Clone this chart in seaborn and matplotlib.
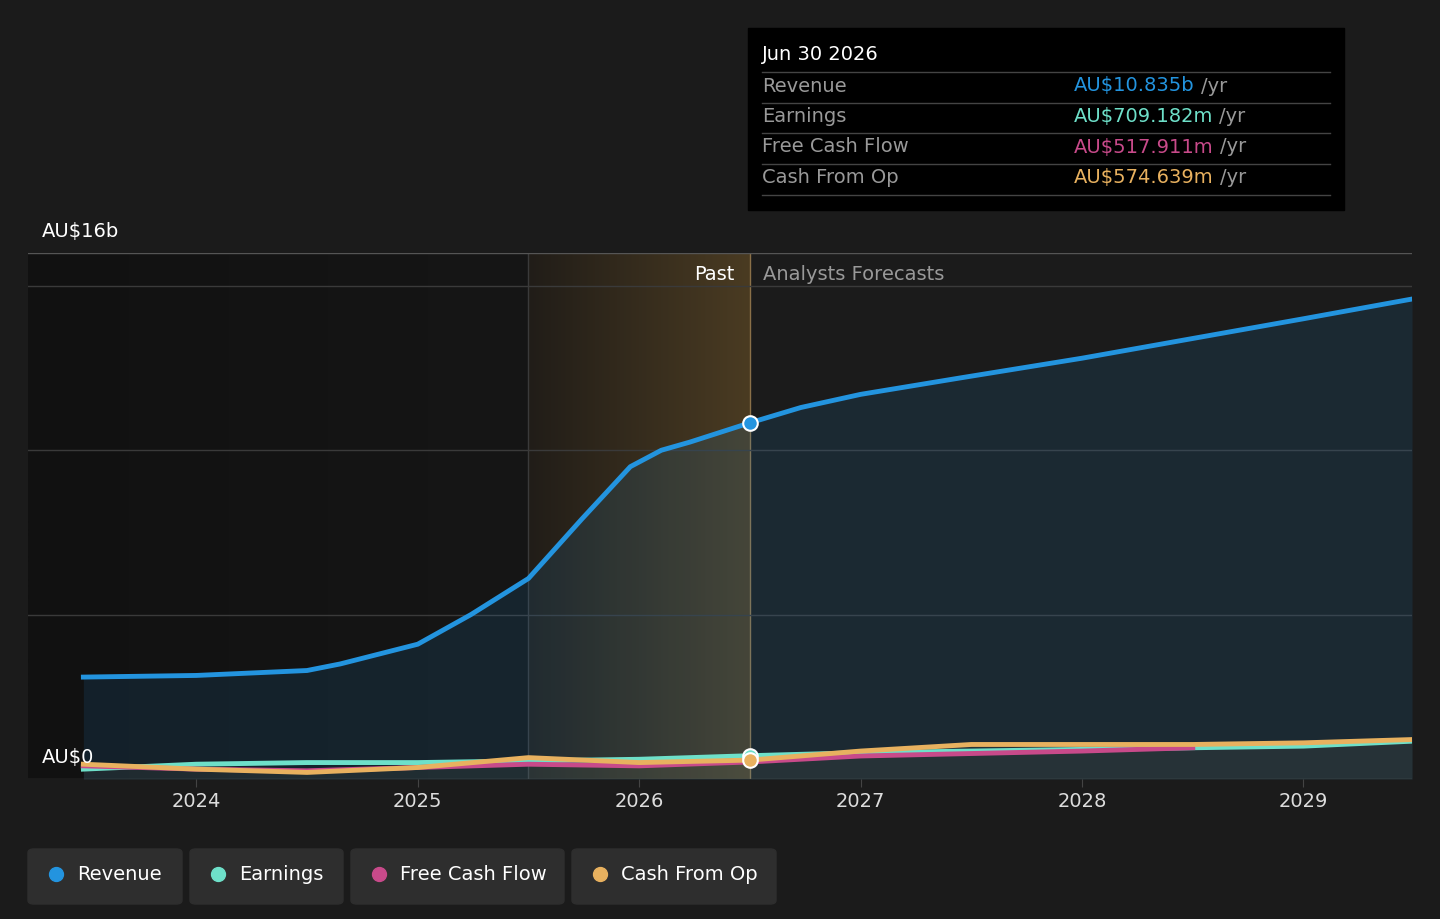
import numpy as np
import pandas as pd
import seaborn as sns
import matplotlib.pyplot as plt
from matplotlib.patches import FancyBboxPatch, Rectangle

# data (AU$ billions)
rev_x = [2023.49, 2024.0, 2024.5, 2024.65, 2025.0, 2025.24, 2025.5, 2025.74, 2025.96, 2026.1, 2026.23, 2026.5,
         2026.73, 2027.0, 2027.45, 2028.0, 2028.5, 2029.0, 2029.49]
rev_y = [3.1, 3.15, 3.3, 3.5, 4.1, 5.0, 6.1, 7.9, 9.5, 10.0, 10.25, 10.835,
         11.3, 11.7, 12.2, 12.8, 13.4, 14.0, 14.6]
earn_x = [2023.49, 2024.0, 2024.5, 2025.0, 2025.5, 2026.0, 2026.5, 2027.0, 2028.0, 2029.0, 2029.49]
earn_y = [0.3, 0.45, 0.5, 0.5, 0.55, 0.6, 0.709, 0.8, 0.9, 1.0, 1.15]
fcf_x = [2023.49, 2024.0, 2024.5, 2025.0, 2025.5, 2026.0, 2026.5, 2027.0, 2028.0, 2028.5]
fcf_y = [0.4, 0.3, 0.25, 0.35, 0.45, 0.4, 0.518, 0.7, 0.85, 0.95]
cfo_x = [2023.49, 2024.0, 2024.5, 2025.0, 2025.5, 2026.0, 2026.5, 2027.0, 2027.5, 2028.0, 2028.5, 2029.0, 2029.49]
cfo_y = [0.45, 0.3, 0.2, 0.35, 0.65, 0.5, 0.575, 0.85, 1.05, 1.05, 1.05, 1.1, 1.2]
years = [2024, 2025, 2026, 2027, 2028, 2029]
past_start, now = 2025.5, 2026.5

C_REV, C_EARN, C_FCF, C_CFO = "#2394df", "#6ee0c9", "#c84a8a", "#e8b15f"
BG = "#1b1b1b"
FS = 14

plt.rcParams['font.family'] = ['DejaVu Sans']
fig = plt.figure(figsize=(14.4, 9.19), dpi=100, facecolor=BG)
ax = fig.add_axes([28 / 1440, 140 / 919, 1384 / 1440, 526 / 919])
ax.set_facecolor(BG)
x0, x1 = 2023.24, 2029.49
ax.set_xlim(x0, x1)
ax.set_ylim(0, 16)

# darker history region and past gradient
cm = plt.matplotlib.colors.LinearSegmentedColormap
grad = np.linspace(0, 1, 256).reshape(1, -1)
ax.imshow(grad, extent=[x0, past_start, 0, 16], aspect='auto', cmap=cm.from_list('d', ['#111111', '#161616']), zorder=0)
ax.imshow(grad, extent=[past_start, now, 0, 16], aspect='auto', cmap=cm.from_list('g', ['#211d18', '#4a3b22']), zorder=0)
ax.axvline(past_start, color='#3a3a3a', lw=1, zorder=1)
ax.axvline(now, color='#8a7048', lw=1, zorder=1)
for g in [5, 10, 15, 16]:
    ax.axhline(g, color='#3a3a3a' if g != 16 else '#555555', lw=1, zorder=1)
ax.axhline(0, color='#444444', lw=1)

ax.fill_between(rev_x, rev_y, color=C_REV, alpha=0.12, lw=0, zorder=2)
ax.fill_between(cfo_x, cfo_y, color='#8a8a6a', alpha=0.1, lw=0, zorder=2)

for xs, ys, c in [(rev_x, rev_y, C_REV), (earn_x, earn_y, C_EARN), (fcf_x, fcf_y, C_FCF), (cfo_x, cfo_y, C_CFO)]:
    sns.lineplot(x=xs, y=ys, color=c, lw=3.5, ax=ax, zorder=4)

for ys, xs, c in [(rev_y, rev_x, C_REV), (earn_y, earn_x, C_EARN), (cfo_y, cfo_x, C_CFO)]:
    ax.scatter([now], [np.interp(now, xs, ys)], s=110, color=c, edgecolor='white', lw=1.5, zorder=6)

ax.set_xticks(years)
ax.set_xticklabels([str(y) for y in years])
ax.tick_params(axis='x', colors='#dddddd', labelsize=FS, length=6, color='#444444')
ax.set_yticks([])
for s in ax.spines.values():
    s.set_visible(False)

ax.text(now - 0.07, 15.35, "Past", color='white', fontsize=FS, ha='right', va='center')
ax.text(now + 0.06, 15.35, "Analysts Forecasts", color='#999999', fontsize=FS, ha='left', va='center')
fig.text(42 / 1440, 1 - 232 / 919, "AU$16b", color='white', fontsize=FS, va='center')
fig.text(42 / 1440, 1 - 758 / 919, "AU$0", color='white', fontsize=FS, va='center')

# tooltip
fig.patches.append(Rectangle((748 / 1440, 1 - 210 / 919), 596 / 1440, 182 / 919, transform=fig.transFigure, color='black', zorder=10))
fig.text(762 / 1440, 1 - 55 / 919, "Jun 30 2026", color='white', fontsize=FS, va='center', zorder=11)
rows = [("Revenue", "AU$10.835b", C_REV), ("Earnings", "AU$709.182m", C_EARN),
        ("Free Cash Flow", "AU$517.911m", C_FCF), ("Cash From Op", "AU$574.639m", C_CFO)]
for i, (lab, val, c) in enumerate(rows):
    yy = 86 + i * 30.5
    fig.add_artist(plt.Line2D([762 / 1440, 1330 / 1440], [1 - (yy - 14) / 919] * 2, color='#444444', lw=1, zorder=11))
    fig.text(762 / 1440, 1 - yy / 919, lab, color='#999999', fontsize=FS, va='center', zorder=11)
    t = fig.text(1074 / 1440, 1 - yy / 919, val, color=c, fontsize=FS, va='center', zorder=11)
    fig.canvas.draw()
    bb = t.get_window_extent()
    fig.text(bb.x1 / 1440 + 6 / 1440, 1 - yy / 919, "/yr", color='#999999', fontsize=FS, va='center', zorder=11)
fig.add_artist(plt.Line2D([762 / 1440, 1330 / 1440], [1 - 195 / 919] * 2, color='#444444', lw=1, zorder=11))

# legend buttons
for lab, c, xl, w in [("Revenue", C_REV, 28, 154), ("Earnings", C_EARN, 190, 153),
                      ("Free Cash Flow", C_FCF, 351, 213), ("Cash From Op", C_CFO, 572, 204)]:
    fig.patches.append(FancyBboxPatch((xl / 1440, 1 - 904 / 919), w / 1440, 55 / 919,
                                      boxstyle="round,pad=0,rounding_size=0.004", transform=fig.transFigure,
                                      color='#2e2e2e', zorder=10))
    fig.add_artist(plt.Line2D([(xl + 28) / 1440], [1 - 874 / 919], marker='o', ms=10, color=c, zorder=11))
    fig.text((xl + 49) / 1440, 1 - 874 / 919, lab, color='white', fontsize=FS, va='center', zorder=11)

fig.savefig("out.png", dpi=100, facecolor=BG)
